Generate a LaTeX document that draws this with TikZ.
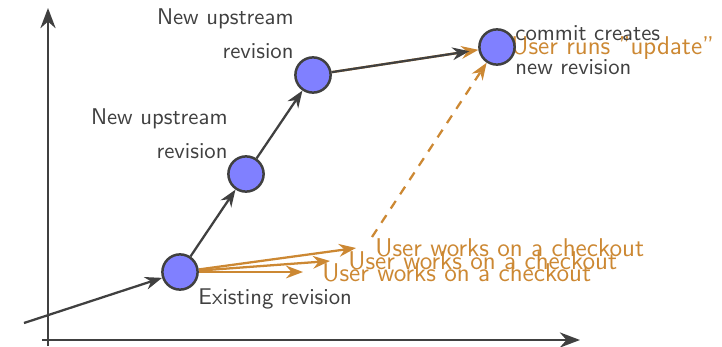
\documentclass[tikz,border=0pt]{standalone}
\usetikzlibrary{arrows.meta,backgrounds}
\definecolor{darkline}{RGB}{64,64,64}
\definecolor{revblue}{RGB}{114,114,255}
\definecolor{useror}{RGB}{204,136,51}
\begin{document}
\begin{tikzpicture}[
        >=Stealth,
        x=0.44pt, y=-0.44pt,
        rev/.style={circle, draw=darkline, fill=revblue, fill opacity=0.9, line width=1.1pt, minimum size=15.5pt, inner sep=0pt},
        lbl/.style={text=darkline, font=\sffamily, inner sep=0pt},
        usr/.style={text=useror, font=\sffamily\fontsize{11.3}{13}\selectfont, inner sep=0pt},
        axis/.style={draw=darkline, line width=1.3pt, ->},
        link/.style={draw=darkline, line width=1pt, ->},
        work/.style={draw=useror, line width=1pt, ->},
        ]
        \useasboundingbox (0,0) rectangle (722,346);
        % axes
        \coordinate (ybot) at (48,346);
        \coordinate (ytop) at (48,8);
        \coordinate (xleft) at (42,340);
        \coordinate (xright) at (580,340);
        \draw[axis] (ybot) to (ytop);
        \draw[axis] (xleft) to (xright);
        % revisions
        \node[rev] (exist) at (180,272) {};
        \node[rev] (up1) at (246,174) {};
        \node[rev] (up2) at (313,75) {};
        \node[rev] (new) at (497,47) {};
        \node[lbl, anchor=west] (existlbl) at (198,299) {Existing revision};
        \node[lbl, anchor=east, align=right] (up1lbl) at (228,134) {New upstream\\[3pt]revision};
        \node[lbl, anchor=east, align=right] (up2lbl) at (294,34) {New upstream\\[3pt]revision};
        \node[lbl, anchor=west, align=left] (newlbl) at (515,50) {commit creates\\[3pt]new revision};
        % checkouts
        \coordinate (start) at (24,323);
        \coordinate (wk1) at (356,248);
        \coordinate (wk2) at (330,261);
        \coordinate (wk3) at (303,272);
        \coordinate (dstart) at (372,237);
        \node[usr, anchor=west] (wk1lbl) at (375,248) {User works on a checkout};
        \node[usr, anchor=west] (wk2lbl) at (348,261) {User works on a checkout};
        \node[usr, anchor=west] (wk3lbl) at (322,273) {User works on a checkout};
        \begin{pgfonlayer}{background}
        \node[usr, anchor=west] (updlbl) at (511,48) {User runs "update"};
        \draw[link] (start) to (exist);
        \draw[link] (exist) to (up1);
        \draw[link] (up1) to (up2);
        \draw[work] (up2) to (new);
        \draw[link, shorten >=4pt] (up2) to (new);
        \draw[work] (exist) to (wk1);
        \draw[work] (exist) to (wk2);
        \draw[work] (exist) to (wk3);
        \draw[work, dash pattern=on 4pt off 3.5pt] (dstart) to (new);
        \end{pgfonlayer}
        \end{tikzpicture}
\end{document}
